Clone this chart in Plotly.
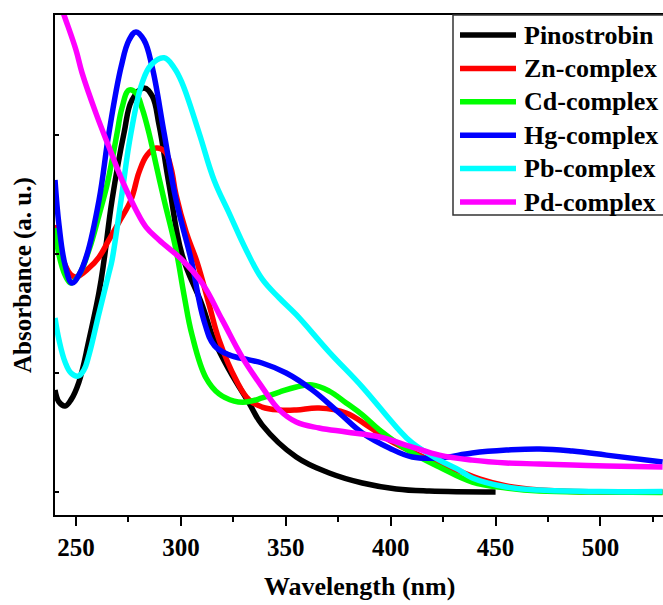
import plotly.graph_objects as go

# UV-Vis absorption spectra of pinostrobin and its metal complexes
names = ["Pinostrobin", "Zn-complex", "Cd-complex", "Hg-complex", "Pb-complex", "Pd-complex"]
colors = ["#000000", "#FF0000", "#00FF00", "#0000FF", "#00FFFF", "#FF00FF"]

pinostrobin_wl = [240.0, 241.9, 244.8, 247.6, 251.4, 256.2, 261.0, 263.4, 267.2, 272.9, 276.7, 282.4,
                  286.3, 289.6, 294.4, 300.6, 310.1, 315.8, 323.0, 332.5, 338.7, 355.0, 370.7, 386.5,
                  402.7, 418.4, 450.0]
pinostrobin_abs = [0.429, 0.378, 0.361, 0.387, 0.462, 0.639, 0.840, 0.975, 1.227, 1.508, 1.647, 1.697,
                   1.664, 1.542, 1.290, 0.996, 0.786, 0.639, 0.513, 0.374, 0.282, 0.147, 0.080, 0.038,
                   0.013, 0.004, 0.000]

zn_wl = [240.0, 241.9, 244.8, 247.6, 250.0, 256.2, 261.0, 265.7, 270.5, 276.2, 280.1, 283.9, 288.2,
         292.5, 295.3, 297.7, 302.5, 307.7, 313.5, 318.2, 326.3, 332.5, 338.7, 346.9, 355.0, 365.9,
         378.8, 389.8, 399.3, 410.3, 423.2, 432.7, 442.3, 455.2, 470.9, 499.5, 529.6]
zn_abs = [1.122, 1.038, 0.954, 0.912, 0.903, 0.941, 0.987, 1.059, 1.134, 1.227, 1.345, 1.416, 1.445,
          1.429, 1.361, 1.248, 1.092, 0.966, 0.786, 0.639, 0.471, 0.387, 0.357, 0.345, 0.345, 0.353,
          0.332, 0.273, 0.218, 0.168, 0.118, 0.088, 0.055, 0.025, 0.008, 0.000, 0.000]

cd_wl = [240.0, 241.9, 244.8, 247.6, 251.4, 256.2, 261.0, 264.8, 267.2, 269.6, 271.9, 275.3, 278.6,
         281.5, 284.8, 288.2, 292.0, 297.7, 301.5, 305.3, 312.0, 318.2, 325.4, 331.1, 338.7, 346.9,
         355.0, 362.6, 370.7, 378.8, 386.5, 394.6, 410.3, 423.2, 438.9, 455.2, 470.9, 499.5, 529.6]
cd_abs = [1.109, 0.996, 0.912, 0.878, 0.912, 1.017, 1.164, 1.290, 1.395, 1.508, 1.613, 1.689, 1.676,
          1.613, 1.508, 1.374, 1.227, 1.017, 0.828, 0.660, 0.479, 0.412, 0.382, 0.378, 0.395, 0.420,
          0.441, 0.450, 0.424, 0.374, 0.324, 0.261, 0.164, 0.105, 0.042, 0.017, 0.004, 0.000, -0.002]

hg_wl = [240.0, 241.9, 244.8, 248.1, 251.4, 255.2, 261.0, 265.7, 271.5, 275.3, 278.6, 282.4, 286.3,
         292.0, 297.7, 304.9, 311.0, 316.0, 323.0, 332.5, 338.7, 350.2, 362.6, 375.5, 386.5, 399.3,
         410.3, 423.2, 438.9, 455.2, 470.9, 486.6, 502.9, 529.6]
hg_abs = [1.311, 1.122, 0.954, 0.878, 0.912, 0.996, 1.227, 1.508, 1.786, 1.899, 1.933, 1.899, 1.786,
          1.508, 1.227, 0.975, 0.720, 0.615, 0.576, 0.555, 0.542, 0.500, 0.429, 0.332, 0.248, 0.185,
          0.147, 0.143, 0.164, 0.176, 0.181, 0.172, 0.155, 0.126]

pb_wl = [240.0, 241.9, 244.8, 247.6, 251.0, 253.8, 256.2, 261.0, 265.7, 267.2, 271.5, 276.2, 281.5,
         285.8, 292.0, 296.8, 300.6, 308.7, 315.8, 323.0, 331.1, 338.7, 346.9, 355.0, 370.7, 386.5,
         402.7, 410.3, 423.2, 432.7, 438.9, 455.2, 470.9, 499.5, 529.6]
pb_abs = [0.731, 0.639, 0.546, 0.500, 0.487, 0.513, 0.576, 0.752, 0.920, 0.975, 1.227, 1.508, 1.718,
          1.794, 1.824, 1.782, 1.718, 1.508, 1.311, 1.172, 1.017, 0.895, 0.815, 0.745, 0.588, 0.441,
          0.273, 0.206, 0.134, 0.092, 0.059, 0.021, 0.008, 0.002, 0.002]

pd_wl = [240.0, 244.3, 250.0, 252.9, 259.5, 265.7, 271.9, 278.6, 283.4, 289.6, 300.6, 310.1, 319.7,
         329.2, 338.7, 346.9, 355.0, 365.9, 378.8, 394.6, 410.3, 423.2, 438.9, 455.2, 470.9, 486.6,
         502.9, 529.6]
pd_abs = [2.113, 2.004, 1.857, 1.761, 1.592, 1.450, 1.311, 1.185, 1.113, 1.059, 0.975, 0.878, 0.723,
          0.567, 0.441, 0.345, 0.294, 0.269, 0.252, 0.231, 0.189, 0.155, 0.134, 0.122, 0.118, 0.113,
          0.109, 0.105]

series = [
    (pinostrobin_wl, pinostrobin_abs),
    (zn_wl, zn_abs),
    (cd_wl, cd_abs),
    (hg_wl, hg_abs),
    (pb_wl, pb_abs),
    (pd_wl, pd_abs),
]

x_ticks = [250, 300, 350, 400, 450, 500]
y_ticks = [0.0, 0.5, 1.0, 1.5]

FONT = "Liberation Serif"
W, H = 663, 605
ML, MR, MT, MB = 55, 0, 15, 90
PW, PH = W - ML - MR, H - MT - MB


def px(x):
    return (x - ML) / PW


def py(y):
    return (H - MB - y) / PH


fig = go.Figure()
for name, color, (wl, ab) in zip(names, colors, series):
    fig.add_trace(go.Scatter(
        x=wl, y=ab, name=name, mode="lines",
        line=dict(color=color, width=5.5, shape="spline", smoothing=1.15),
        showlegend=False,
    ))

# boxed legend in the upper right corner
shapes = [dict(type="rect", xref="paper", yref="paper",
               x0=px(453), x1=px(700), y0=py(215), y1=py(15),
               line=dict(color="#333333", width=1.5), fillcolor="white", layer="above")]
annotations = []
for i, (name, color) in enumerate(zip(names, colors)):
    yc = 35 + 33.4 * i
    shapes.append(dict(type="line", xref="paper", yref="paper",
                       x0=px(460), x1=px(516), y0=py(yc), y1=py(yc),
                       line=dict(color=color, width=5.5), layer="above"))
    annotations.append(dict(xref="paper", yref="paper", x=px(522), y=py(yc),
                            xanchor="left", yanchor="middle", showarrow=False,
                            text=name, font=dict(family=FONT, size=26, color="black", weight="bold")))

annotations.append(dict(xref="paper", yref="paper", x=0.5, y=py(586),
                        xanchor="center", yanchor="middle", showarrow=False,
                        text="Wavelength (nm)",
                        font=dict(family=FONT, size=26, color="black", weight="bold")))
annotations.append(dict(xref="paper", yref="paper", x=px(23), y=py(275),
                        xanchor="center", yanchor="middle", showarrow=False, textangle=-90,
                        text="Absorbance (a. u.)",
                        font=dict(family=FONT, size=25, color="black", weight="bold")))

fig.update_layout(
    width=W, height=H,
    margin=dict(l=ML, r=MR, t=MT, b=MB),
    paper_bgcolor="white", plot_bgcolor="white",
    shapes=shapes, annotations=annotations,
    xaxis=dict(
        range=[240, 529.8], tickvals=x_ticks, ticks="outside", ticklen=9, tickwidth=2,
        tickcolor="black", showline=True, linewidth=2, linecolor="black", mirror=True,
        showgrid=False, zeroline=False,
        tickfont=dict(family=FONT, size=25, color="black", weight="bold"),
        minor=dict(dtick=25, tick0=250, ticks="outside", ticklen=5, tickwidth=2, tickcolor="black",
                   showgrid=False),
    ),
    yaxis=dict(
        range=[-0.0966, 2.004], tickvals=y_ticks, ticks="inside", ticklen=4, tickwidth=2,
        tickcolor="black", showticklabels=False, showline=True, linewidth=2, linecolor="black",
        showgrid=False, zeroline=False,
    ),
)

fig.write_html("out.html")
